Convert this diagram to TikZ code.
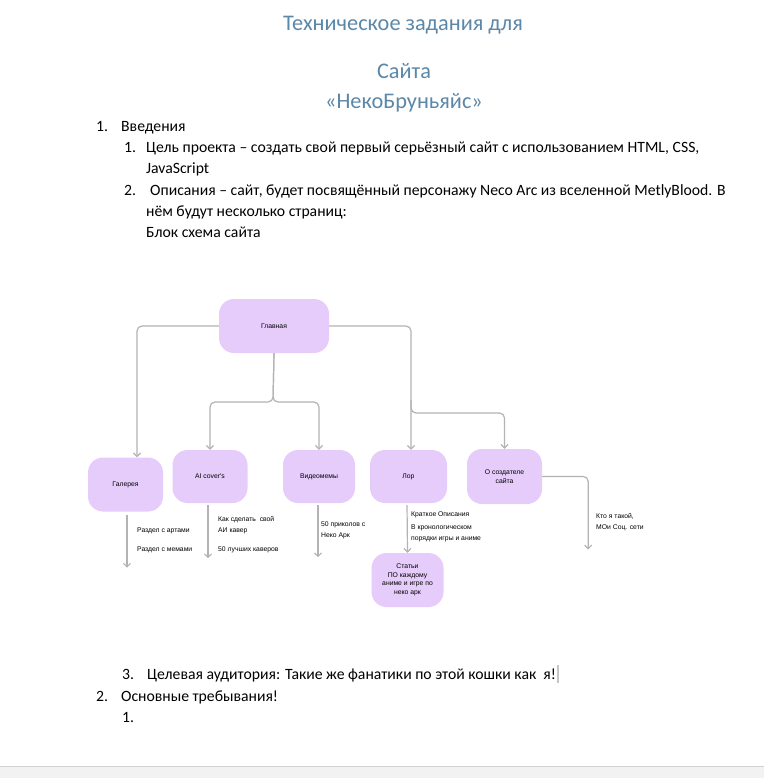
\documentclass[tikz,border=0pt]{standalone}
\usepackage{fontspec}
\setmainfont{Carlito}
\newfontfamily\diafont{Liberation Sans}
\usetikzlibrary{arrows.meta}
\definecolor{titleblue}{HTML}{5B87A8}
\definecolor{lavender}{HTML}{E5CCFB}
\definecolor{linkgray}{HTML}{B3B3B3}
\definecolor{bandgray}{HTML}{F2F2F2}

\begin{document}
\begin{tikzpicture}[x=1pt, y=-1pt,
  ttl/.style={anchor=base, inner sep=0pt, text=titleblue, font=\fontsize{22.3}{26}\selectfont},
  txt/.style={anchor=base west, inner sep=0pt, font=\fontsize{15.7}{18}\selectfont},
  page/.style={rounded corners=15pt, fill=lavender, minimum width=75pt, minimum height=54pt,
    inner sep=1pt, align=center, font=\diafont\fontsize{6.8}{8.6}\selectfont},
  note/.style={anchor=west, inner sep=0pt, align=left, font=\diafont\fontsize{6.8}{10.8}\selectfont},
  link/.style={draw=linkgray, line width=1.2pt, rounded corners=5pt,
    -{Straight Barb[length=3.5pt,width=7pt]}}]
  \useasboundingbox[fill=white] (0,0) rectangle (764,778);

  % title
  \node[ttl] (title1) at (403,31) {Техническое задания для};
  \node[ttl] (title2) at (404,79) {Сайта};
  \node[ttl] (title3) at (404,109) {«НекоБруньяйс»};

  % list
  \node[txt] (n1) at (96,132) {1.};
  \node[txt] (t1) at (121,132) {Введения};
  \node[txt] (n11) at (124,153) {1.};
  \node[txt] (t11) at (146,153) {Цель проекта – создать свой первый серьёзный сайт с использованием HTML, CSS,};
  \node[txt] (t11b) at (146,174) {JavaScript};
  \node[txt] (n12) at (124,195) {2.};
  \node[txt] (t12) at (150,195) {Описания – сайт, будет посвящённый персонажу Neco Arc из вселенной MetlyBlood. В};
  \node[txt] (t12b) at (146,216) {нём будут несколько страниц:};
  \node[txt] (t12c) at (146,237) {Блок схема сайта};

  % block scheme
  \node[page, minimum width=110pt] (glav) at (274,326) {Главная};
  \node[page] (gal) at (125.5,484.5) {Галерея};
  \node[page, minimum height=53pt] (ai) at (210,476.5) {AI cover's};
  \node[page, minimum width=72pt, minimum height=53pt] (video) at (319,476.5) {Видеомемы};
  \node[page, minimum width=77pt, minimum height=53pt] (lor) at (408.5,476.5) {Лор};
  \node[page, minimum height=55pt] (about) at (504.5,476.5) {О создателе\\сайта};
  \node[page, minimum width=72pt] (stat) at (407.5,580) {Статьи\\ПО каждому\\аниме и игре по\\неко арк};

  \coordinate (split) at (273,402);
  \coordinate (fork) at (411,413);
  \draw[link] (glav.west) -| ([xshift=11.5]gal.north);
  \draw[link] (glav.south) -- (split) -| (ai.north);
  \draw[link] (glav.south) -- (split) -| (video.north);
  \draw[link] (glav.east) -| ([xshift=2.5]lor.north);
  \draw[link] (411,400) -- (fork) -| (about.north);

  \draw[link, shorten <=3pt] ([xshift=1.5]gal.south) -- ++(0,56);
  \draw[link, shorten <=2pt] ([xshift=-2]ai.south) -- ++(0,55);
  \draw[link, shorten <=2pt] ([xshift=-1]video.south) -- ++(0,54);
  \draw[link, shorten <=2pt] ([xshift=-1.5]lor.south) -- (stat.north);
  \draw[link] (about.east) -| ++(46,73);

  \node[note] (gal1) at (137,531) {Раздел с артами};
  \node[note] (gal2) at (137,550) {Раздел с мемами};
  \node[note] (ai1) at (218,525.5) {Как сделать\ \ свой\\АИ кавер};
  \node[note] (ai2) at (218,550) {50 лучших каверов};
  \node[note] (video1) at (321,530.5) {50 приколов с\\Неко Арк};
  \node[note] (lor1) at (411,515) {Краткое Описания};
  \node[note] (lor2) at (411,533) {В кронологическом\\порядки игры и аниме};
  \node[note] (about1) at (596,522.5) {Кто я такой,\\МОи Соц. сети};

  % list, continued
  \node[txt] (n13) at (122,679) {3.};
  \node[txt] (t13) at (147,679) {Целевая аудитория: Такие же фанатики по этой кошки как\ \ я!};
  \draw[gray!45, line width=1.6pt] ([xshift=2]t13.base east) ++(0,4) -- ++(0,-18);
  \node[txt] (n2) at (96,701) {2.};
  \node[txt] (t2) at (121,701) {Основные требывания!};
  \node[txt] (n21) at (122,722) {1.};

  % bottom band
  \fill[bandgray] (0,766) rectangle (764,778);
  \draw[gray!35] (0,766) -- (764,766);
\end{tikzpicture}
\end{document}
